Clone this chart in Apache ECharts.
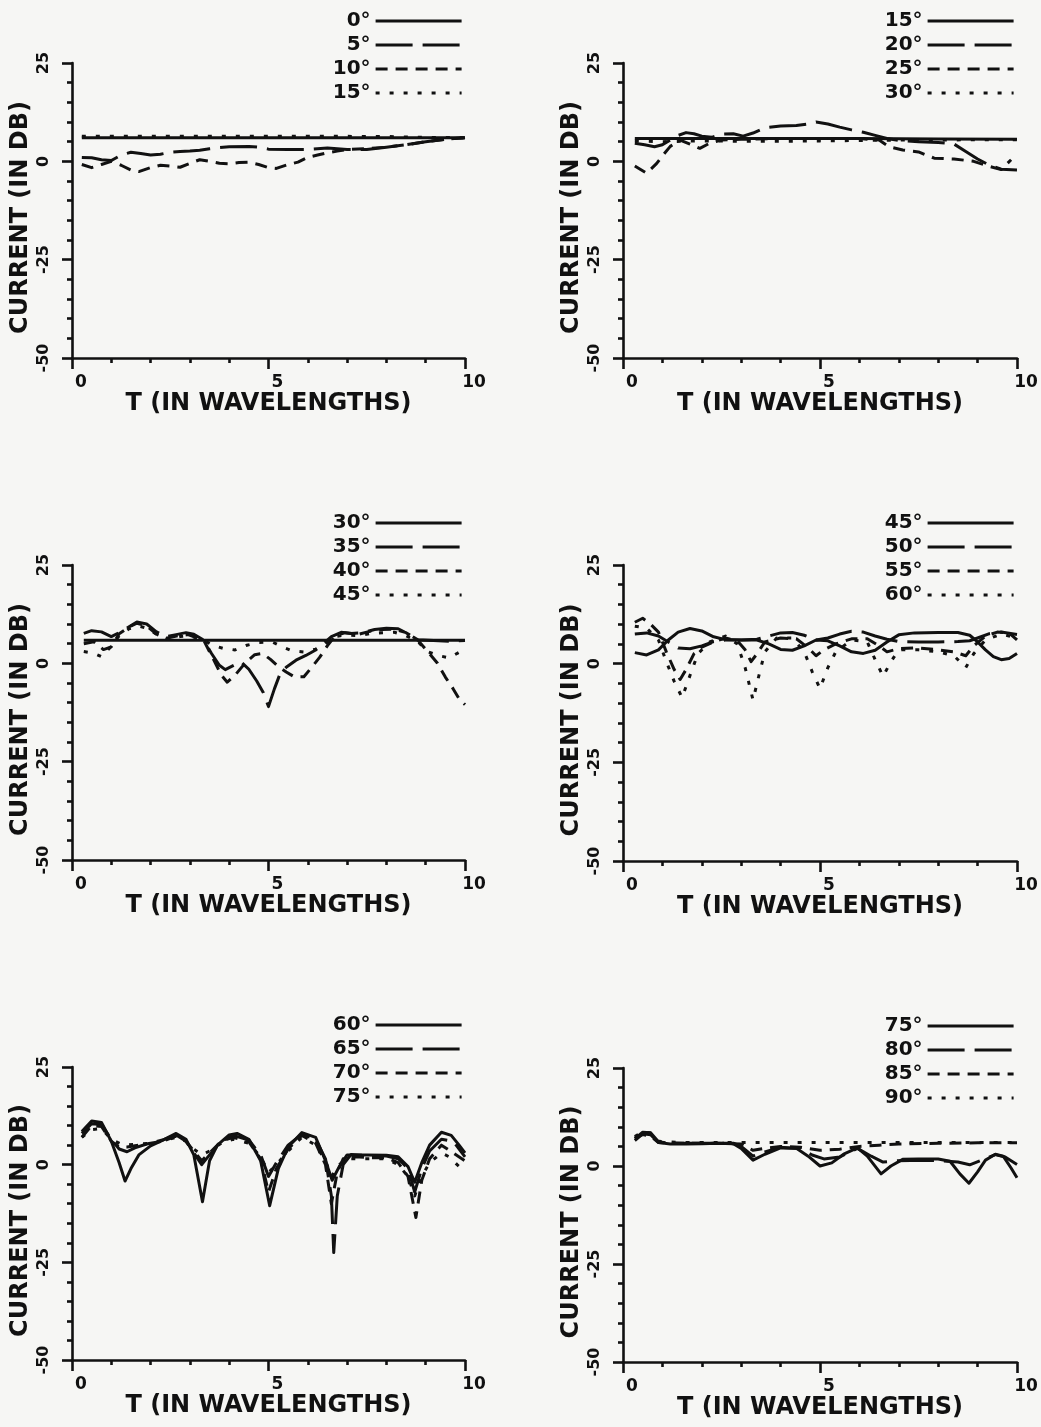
<!DOCTYPE html>
<html>
<head>
<meta charset="utf-8">
<script src="https://cdn.jsdelivr.net/npm/echarts/dist/echarts.min.js"></script>
<style>
  html, body { margin: 0; padding: 0; background: #f6f6f4; }
  #chart { width: 1041px; height: 1427px; }
</style>
</head>
<body>
<div id="chart"></div>
<script>
// Surface current (dB) versus distance T along the surface, one panel per group of incidence angles.

const X_TICKS = [0, 5, 10];
const Y_TICKS = [-50, -25, 0, 25];
const X_TITLE = 'T (IN WAVELENGTHS)';
const Y_TITLE = 'CURRENT (IN DB)';

// ---- Panel 1: 0°, 5°, 10°, 15°
const p1_angles = ['0°', '5°', '10°', '15°'];
const p1_a = [[0.25,6.0],[2,6.0],[4,6.0],[6,6.0],[8,6.0],[10,6.0]];
const p1_b = [[0.25,1.0],[0.5,0.9],[0.75,0.4],[1.0,0.2],[1.25,1.6],[1.5,2.3],[1.75,2.0],[2.0,1.6],[2.25,1.8],[2.5,2.3],[2.75,2.5],[3.0,2.6],[3.25,2.8],[3.5,3.2],[3.75,3.5],[4.0,3.7],[4.5,3.8],[4.75,3.6],[5.0,3.1],[5.5,3.0],[6.0,3.0],[6.5,3.4],[7.0,3.0],[7.5,3.0],[8.0,3.6],[8.5,4.2],[9.0,5.0],[9.5,5.6],[10,6.0]];
const p1_c = [[0.25,-0.8],[0.5,-1.6],[0.75,-0.8],[1.0,0.0],[1.25,-1.0],[1.5,-2.2],[1.7,-2.6],[2.0,-1.6],[2.25,-1.0],[2.5,-1.2],[2.75,-1.5],[3.0,-0.5],[3.25,0.4],[3.5,0.0],[3.75,-0.5],[4.0,-0.6],[4.25,-0.3],[4.5,-0.2],[4.75,-0.8],[5.0,-1.6],[5.2,-1.8],[5.5,-0.8],[5.75,-0.2],[6.0,1.0],[6.25,1.6],[6.5,2.2],[6.75,2.6],[7.0,3.0],[7.5,3.2],[8.0,3.6],[8.5,4.2],[9.0,5.0],[9.5,5.6],[10,6.0]];
const p1_d = [[0.25,6.4],[2,6.4],[4,6.4],[6,6.4],[8,6.3],[9,6.1],[10,6.0]];

// ---- Panel 2: 15°, 20°, 25°, 30°
const p2_angles = ['15°', '20°', '25°', '30°'];
const p2_a = [[0.3,5.8],[2,5.8],[4,5.8],[6,5.8],[8,5.7],[10,5.6]];
const p2_b = [[0.3,4.6],[0.55,4.2],[0.8,3.7],[1.0,4.2],[1.2,5.4],[1.4,6.6],[1.6,7.3],[1.8,7.0],[2.0,6.4],[2.25,6.1],[2.5,6.9],[2.8,7.0],[3.05,6.4],[3.3,7.2],[3.6,8.5],[4.0,9.0],[4.4,9.1],[4.7,9.5],[4.9,10.0],[5.2,9.5],[5.5,8.7],[5.8,8.0],[6.1,7.4],[6.4,6.6],[6.7,5.8],[7.0,5.3],[7.5,5.0],[8.0,4.8],[8.4,4.4],[8.7,2.5],[9.0,0.6],[9.3,-1.0],[9.6,-2.0],[10,-2.2]];
const p2_c = [[0.3,-1.2],[0.6,-3.0],[0.85,-0.6],[1.0,1.4],[1.2,3.8],[1.45,5.4],[1.7,4.4],[1.95,3.3],[2.2,4.6],[2.5,5.4],[3.0,5.6],[4.0,5.8],[5.0,5.8],[6.0,5.8],[6.5,5.4],[6.75,3.7],[7.1,2.9],[7.5,2.4],[7.9,0.8],[8.4,0.6],[8.9,0.0],[9.3,-1.3],[9.6,-2.1],[9.85,0.4]];
const p2_d = [[0.3,5.2],[1,5.0],[2,5.2],[3,5.1],[4,5.1],[5,5.2],[6,5.3],[7,5.4],[8,5.4],[9,5.5],[10,5.5]];

// ---- Panel 3: 30°, 35°, 40°, 45°
const p3_angles = ['30°', '35°', '40°', '45°'];
const p3_a = [[0.3,5.9],[2,5.9],[4,5.9],[6,5.9],[8,5.9],[10,5.9]];
const p3_b = [[0.3,7.6],[0.5,8.3],[0.75,8.0],[1.0,6.8],[1.2,7.8],[1.4,9.0],[1.65,10.5],[1.9,10.0],[2.15,8.0],[2.4,6.8],[2.65,7.3],[2.9,7.8],[3.1,7.4],[3.35,5.9],[3.55,2.5],[3.75,-0.5],[3.9,-1.6],[4.1,-0.6],[4.3,0.4],[4.5,-1.5],[4.7,-4.5],[4.87,-7.5],[5.0,-11.0],[5.15,-6.5],[5.3,-2.5],[5.45,-1.0],[5.7,0.8],[5.95,2.0],[6.2,3.4],[6.4,5.0],[6.6,6.8],[6.85,7.9],[7.1,7.6],[7.4,7.8],[7.7,8.6],[8.0,8.9],[8.3,8.8],[8.55,7.5],[8.8,6.0],[9.2,5.8],[9.6,5.6],[10,5.8]];
const p3_c = [[0.3,5.0],[0.55,5.5],[0.8,3.5],[1.0,4.2],[1.2,7.5],[1.45,9.2],[1.65,10.2],[1.9,9.5],[2.15,7.4],[2.4,6.4],[2.7,7.0],[2.95,7.3],[3.35,5.9],[3.6,1.0],[3.8,-3.0],[3.95,-4.8],[4.15,-3.0],[4.4,0.0],[4.65,2.2],[4.85,2.5],[5.05,1.0],[5.25,-0.8],[5.45,-2.2],[5.65,-3.4],[5.9,-3.4],[6.1,-1.0],[6.3,1.5],[6.5,4.5],[6.7,7.0],[6.95,7.8],[7.3,7.4],[7.6,8.2],[7.9,8.6],[8.2,8.7],[8.5,7.8],[8.8,5.9],[9.05,3.0],[9.3,0.0],[9.5,-3.5],[9.7,-6.5],[9.85,-9.0],[10,-10.5]];
const p3_d = [[0.3,3.0],[0.55,2.6],[0.75,1.7],[0.95,3.8],[1.2,7.0],[1.45,8.8],[1.7,9.5],[1.95,8.8],[2.2,7.0],[2.45,6.2],[2.75,6.8],[3.0,7.0],[3.35,5.9],[3.6,4.5],[3.85,3.8],[4.15,3.4],[4.45,4.6],[4.75,5.3],[5.1,5.4],[5.35,4.2],[5.6,3.2],[5.9,2.9],[6.2,3.6],[6.45,5.0],[6.7,6.8],[6.95,7.2],[7.3,7.0],[7.6,7.6],[7.9,7.8],[8.2,7.9],[8.5,7.0],[8.8,5.5],[9.05,3.0],[9.3,2.0],[9.6,1.4],[9.85,2.8],[10,3.4]];

// ---- Panel 4: 45°, 50°, 55°, 60°
const p4_angles = ['45°', '50°', '55°', '60°'];
const p4_a = [[0.3,2.8],[0.6,2.2],[0.9,3.5],[1.15,6.0],[1.4,8.0],[1.7,8.9],[2.0,8.3],[2.3,6.8],[2.6,6.1],[3.0,6.0],[3.4,6.0],[3.7,5.0],[4.0,3.6],[4.3,3.4],[4.6,4.5],[4.9,6.0],[5.2,5.8],[5.5,4.5],[5.8,3.0],[6.1,2.6],[6.4,3.4],[6.7,5.5],[7.0,7.3],[7.4,7.8],[8.0,7.9],[8.5,7.9],[8.8,7.2],[9.0,5.5],[9.2,3.5],[9.4,1.8],[9.6,1.0],[9.8,1.3],[10,2.6]];
const p4_b = [[0.3,7.5],[0.6,7.8],[0.9,7.0],[1.15,5.5],[1.4,4.0],[1.7,3.8],[2.0,4.5],[2.3,5.6],[2.6,6.0],[3.0,6.0],[3.4,6.2],[3.7,7.0],[4.0,7.8],[4.3,7.9],[4.6,7.2],[4.9,6.0],[5.2,6.5],[5.5,7.5],[5.8,8.2],[6.1,8.0],[6.4,7.0],[6.7,6.2],[7.0,5.6],[7.5,5.5],[8.0,5.5],[8.5,5.6],[8.8,5.8],[9.0,6.5],[9.3,7.6],[9.6,8.0],[10,7.4]];
const p4_c = [[0.3,10.5],[0.5,11.5],[0.7,10.0],[0.9,8.0],[1.1,3.0],[1.3,-1.5],[1.45,-4.0],[1.6,-1.5],[1.8,2.5],[2.0,4.2],[2.3,5.5],[2.6,6.5],[2.9,5.8],[3.1,3.5],[3.25,0.5],[3.4,2.5],[3.6,5.5],[4.0,6.5],[4.4,6.3],[4.7,4.0],[4.9,2.0],[5.1,3.5],[5.4,5.0],[5.8,6.3],[6.2,6.3],[6.5,4.5],[6.7,3.0],[7.0,3.8],[7.5,4.0],[8.0,3.5],[8.4,3.0],[8.7,2.0],[8.9,4.5],[9.2,7.0],[9.5,8.0],[9.8,7.8],[10,6.0]];
const p4_d = [[0.3,9.5],[0.6,9.0],[0.9,6.0],[1.1,0.5],[1.3,-4.5],[1.5,-8.6],[1.7,-3.0],[1.9,2.5],[2.2,5.5],[2.6,7.0],[2.9,5.0],[3.1,-1.0],[3.3,-9.2],[3.45,-3.0],[3.6,3.0],[3.9,6.5],[4.3,6.5],[4.6,3.0],[4.8,-2.0],[5.0,-6.3],[5.2,-1.0],[5.4,3.0],[5.8,6.0],[6.2,5.5],[6.4,1.0],[6.6,-3.2],[6.8,0.5],[7.0,3.5],[7.5,3.5],[8.0,3.0],[8.4,2.0],[8.7,-1.0],[8.9,2.5],[9.2,6.0],[9.6,7.5],[10,6.5]];

// ---- Panel 5: 60°, 65°, 70°, 75°
const p5_angles = ['60°', '65°', '70°', '75°'];
const p5_a = [[0.25,8.5],[0.5,11.2],[0.75,10.8],[1.0,6.0],[1.2,0.5],[1.35,-4.2],[1.5,-1.0],[1.7,2.5],[2.0,4.8],[2.3,6.2],[2.65,8.0],[2.9,6.5],[3.1,2.5],[3.32,-9.5],[3.5,1.0],[3.7,5.0],[4.0,7.6],[4.2,8.0],[4.5,6.5],[4.8,1.0],[5.03,-10.5],[5.25,-1.0],[5.5,4.5],[5.85,8.2],[6.2,7.0],[6.45,1.0],[6.62,-4.0],[6.8,-0.5],[7.0,2.5],[7.5,2.5],[8.0,2.4],[8.3,2.0],[8.55,-0.5],[8.72,-4.5],[8.9,0.5],[9.1,5.0],[9.4,8.3],[9.65,7.5],[9.85,5.0],[10,3.0]];
const p5_b = [[0.25,8.0],[0.5,10.5],[0.75,10.3],[1.0,6.5],[1.2,4.0],[1.4,3.3],[1.6,4.3],[1.9,5.3],[2.3,6.3],[2.65,7.6],[2.9,6.0],[3.1,3.0],[3.3,0.0],[3.5,2.5],[3.8,6.0],[4.1,7.5],[4.5,6.3],[4.8,2.5],[5.0,-3.0],[5.2,0.5],[5.5,5.0],[5.85,7.8],[6.2,6.5],[6.45,1.5],[6.6,-8.0],[6.66,-22.5],[6.75,-8.0],[6.9,0.0],[7.1,2.6],[7.5,2.3],[8.0,2.2],[8.3,1.5],[8.55,-1.0],[8.72,-7.0],[8.9,-1.0],[9.1,3.5],[9.4,6.5],[9.7,6.0],[10,2.0]];
const p5_c = [[0.25,7.0],[0.5,10.0],[0.75,9.8],[1.0,6.0],[1.2,4.5],[1.4,4.5],[1.7,5.0],[2.0,5.5],[2.3,6.0],[2.65,7.3],[2.9,6.0],[3.1,3.5],[3.3,1.0],[3.5,3.0],[3.8,6.0],[4.1,7.0],[4.5,5.8],[4.8,1.5],[5.0,-7.0],[5.2,-1.0],[5.5,4.0],[5.85,7.5],[6.2,5.5],[6.45,0.0],[6.6,-10.0],[6.75,-2.0],[6.9,1.5],[7.2,2.0],[7.6,1.8],[8.0,1.8],[8.3,0.5],[8.55,-3.0],[8.75,-13.5],[8.9,-4.0],[9.1,1.5],[9.4,5.0],[9.7,3.0],[10,1.0]];
const p5_d = [[0.25,7.0],[0.5,9.0],[0.75,9.2],[1.0,6.5],[1.3,5.0],[1.6,5.2],[2.0,5.5],[2.3,6.0],[2.65,7.0],[2.9,6.0],[3.1,4.0],[3.3,2.5],[3.5,3.5],[3.8,5.5],[4.1,6.5],[4.5,5.5],[4.8,2.0],[5.0,-2.0],[5.2,0.0],[5.5,3.5],[5.85,7.0],[6.2,5.0],[6.45,1.0],[6.6,-3.0],[6.8,0.0],[7.0,1.5],[7.5,1.5],[8.0,1.5],[8.3,0.0],[8.55,-3.0],[8.72,-8.0],[8.9,-3.0],[9.1,0.5],[9.4,3.0],[9.6,2.0],[9.8,0.0],[10,-1.8]];

// ---- Panel 6: 75°, 80°, 85°, 90°
const p6_angles = ['75°', '80°', '85°', '90°'];
const p6_a = [[0.3,6.5],[0.5,8.2],[0.7,8.0],[0.9,6.0],[1.2,5.6],[1.6,5.6],[2.0,5.7],[2.4,5.8],[2.8,5.7],[3.0,4.5],[3.3,1.5],[3.6,3.0],[4.0,4.6],[4.4,4.5],[4.7,2.5],[5.0,0.0],[5.3,0.8],[5.6,3.0],[5.95,4.6],[6.2,2.5],[6.55,-2.0],[6.8,0.0],[7.1,1.7],[7.5,1.8],[8.0,1.8],[8.3,1.2],[8.55,-2.0],[8.78,-4.4],[9.0,-1.5],[9.2,1.5],[9.45,3.0],[9.65,2.5],[9.85,-0.5],[10,-3.0]];
const p6_b = [[0.3,7.0],[0.5,8.6],[0.7,8.5],[0.9,6.2],[1.2,5.8],[2.0,5.8],[2.8,5.8],[3.0,5.0],[3.3,2.5],[3.6,3.6],[4.0,4.8],[4.5,4.4],[4.8,2.8],[5.1,1.8],[5.5,2.3],[5.95,4.5],[6.3,2.5],[6.6,1.0],[6.9,1.3],[7.3,1.4],[8.0,1.4],[8.5,1.0],[8.8,0.3],[9.1,1.5],[9.45,2.9],[9.7,2.3],[10,0.4]];
const p6_c = [[0.3,7.2],[0.5,8.0],[0.7,7.6],[0.9,6.0],[1.5,5.8],[2.5,5.8],[3.0,5.6],[3.3,4.0],[3.6,4.5],[4.0,5.0],[4.5,4.8],[5.0,4.0],[5.5,4.3],[6.0,5.0],[6.5,5.3],[7.0,5.6],[8.0,5.8],[9.0,5.9],[10,5.9]];
const p6_d = [[0.3,7.5],[0.5,8.8],[0.7,8.4],[0.9,6.3],[1.5,6.0],[3,6.0],[5,6.0],[7,6.0],[10,6.0]];

const panels = [
  { angles: p1_angles, curves: [p1_a, p1_b, p1_c, p1_d] },
  { angles: p2_angles, curves: [p2_a, p2_b, p2_c, p2_d] },
  { angles: p3_angles, curves: [p3_a, p3_b, p3_c, p3_d] },
  { angles: p4_angles, curves: [p4_a, p4_b, p4_c, p4_d] },
  { angles: p5_angles, curves: [p5_a, p5_b, p5_c, p5_d] },
  { angles: p6_angles, curves: [p6_a, p6_b, p6_c, p6_d] }
];

// ---- Layout and styling
const INK = '#111111';
const FONT = 'DejaVu Sans';
const DASHES = ['solid', [37, 10], [12, 8], [4, 10]];
const boxes = [
  { left: 72,  top: 63,   width: 393, height: 295, legendRight: 578, legendTop: 11 },
  { left: 623, top: 63,   width: 394, height: 295, legendRight: 26,  legendTop: 11 },
  { left: 72,  top: 565,  width: 393, height: 295, legendRight: 578, legendTop: 513 },
  { left: 623, top: 565,  width: 394, height: 296, legendRight: 26,  legendTop: 513 },
  { left: 72,  top: 1067, width: 393, height: 293, legendRight: 578, legendTop: 1015 },
  { left: 623, top: 1068, width: 394, height: 294, legendRight: 26,  legendTop: 1016 }
];

const grid = [], xAxis = [], yAxis = [], series = [], legend = [];
const axisInk = { color: INK, width: 2.6 };

panels.forEach((panel, i) => {
  const b = boxes[i];
  grid.push({ left: b.left, top: b.top, width: b.width, height: b.height, containLabel: false });

  xAxis.push({
    type: 'value', gridIndex: i,
    min: X_TICKS[0], max: X_TICKS[X_TICKS.length - 1], interval: X_TICKS[1] - X_TICKS[0],
    axisLine: { show: true, onZero: false, lineStyle: axisInk },
    axisTick: { show: true, length: 11, lineStyle: axisInk },
    minorTick: { show: true, splitNumber: 5, length: 5, lineStyle: axisInk },
    splitLine: { show: false }, minorSplitLine: { show: false },
    axisLabel: { color: INK, fontFamily: FONT, fontWeight: 'bold', fontSize: 17, margin: 16, padding: [0, 0, 0, 18] },
    name: X_TITLE, nameLocation: 'middle', nameGap: 32,
    nameTextStyle: { color: INK, fontFamily: FONT, fontWeight: 'bold', fontSize: 24 }
  });

  yAxis.push({
    type: 'value', gridIndex: i,
    min: Y_TICKS[0], max: Y_TICKS[Y_TICKS.length - 1], interval: Y_TICKS[1] - Y_TICKS[0],
    axisLine: { show: true, onZero: false, lineStyle: axisInk },
    axisTick: { show: true, length: 10, lineStyle: axisInk },
    minorTick: { show: true, splitNumber: 5, length: 5, lineStyle: axisInk },
    splitLine: { show: false }, minorSplitLine: { show: false },
    axisLabel: { rotate: 90, color: INK, fontFamily: FONT, fontWeight: 'bold', fontSize: 16, margin: 20 },
    name: Y_TITLE, nameLocation: 'middle', nameGap: 39,
    nameTextStyle: { color: INK, fontFamily: FONT, fontWeight: 'bold', fontSize: 24, padding: [0, 14, 0, 0] }
  });

  const names = [];
  panel.curves.forEach((curve, k) => {
    const name = panel.angles[k] + '#' + i;
    names.push({ name, lineStyle: { type: DASHES[k], width: 2.8, color: INK } });
    series.push({
      type: 'line', name, xAxisIndex: i, yAxisIndex: i, data: curve,
      symbol: 'none', showSymbol: false, smooth: false, clip: true,
      lineStyle: { color: INK, width: 3, type: DASHES[k], cap: 'butt', join: 'round' },
      itemStyle: { color: INK },
      emphasis: { disabled: true }
    });
  });

  legend.push({
    orient: 'vertical', right: b.legendRight, top: b.legendTop, align: 'right',
    padding: 0, itemWidth: 86, itemHeight: 20, itemGap: 4, selectedMode: false,
    data: names,
    formatter: n => n.split('#')[0],
    itemStyle: { opacity: 0 },
    textStyle: { color: INK, fontFamily: FONT, fontWeight: 'bold', fontSize: 20, lineHeight: 20 }
  });
});

const chart = echarts.init(document.getElementById('chart'), null, { renderer: 'canvas' });
chart.setOption({
  backgroundColor: '#f6f6f4',
  animation: false,
  grid, xAxis, yAxis, series, legend,
  tooltip: { show: false }
});
</script>
</body>
</html>
